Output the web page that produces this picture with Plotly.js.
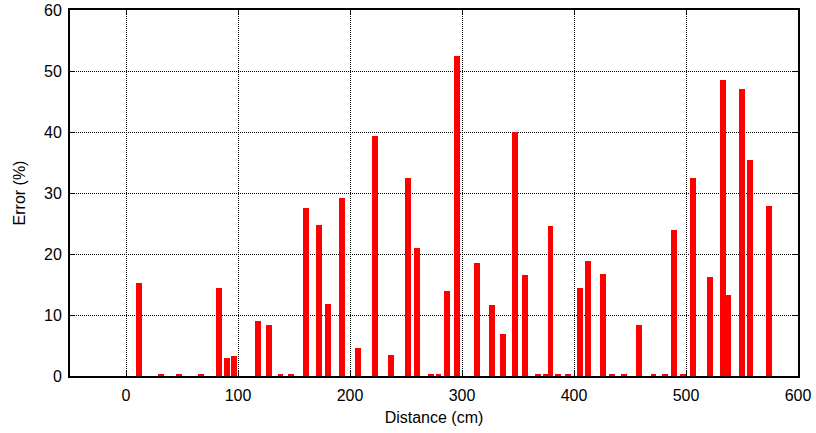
<!DOCTYPE html>
<html>
<head>
<meta charset="utf-8">
<script src="https://cdn.plot.ly/plotly-3.0.1.min.js"></script>
<style>html,body{margin:0;padding:0;background:#fff;}#chart{width:816px;height:433px;}</style>
</head>
<body>
<div id="chart"></div>
<script>
// Distance (cm) of each bar
const distance = [11.5, 31, 47, 67, 83, 90.5, 96.5, 117.5, 127.5, 138, 147,
  161, 172.5, 180, 193, 207, 222.5, 236.5, 252, 260, 272, 279, 286.5, 295.5,
  313.5, 327, 336.5, 347, 356, 368, 375, 379, 386, 395, 405, 412.5, 426, 434,
  445, 458, 471, 481, 489.5, 497, 506, 521.5, 533.3, 537.8, 550, 557, 574];
// Error (%) of each bar
const errorPct = [15.3, 0.35, 0.35, 0.35, 14.4, 2.9, 3.2, 9.0, 8.3, 0.35, 0.35,
  27.6, 24.8, 11.8, 29.2, 4.6, 39.3, 3.4, 32.5, 21.0, 0.35, 0.35, 14.0, 52.5,
  18.5, 11.6, 6.9, 40.0, 16.6, 0.35, 0.35, 24.6, 0.35, 0.35, 14.5, 18.9, 16.8, 0.35,
  0.35, 8.3, 0.35, 0.35, 23.9, 0.35, 32.5, 16.3, 48.5, 13.3, 47.1, 35.4, 27.9];
const xTicks = [0, 100, 200, 300, 400, 500, 600];
const yTicks = [0, 10, 20, 30, 40, 50, 60];

const trace = {
  type: 'bar',
  x: distance,
  y: errorPct,
  width: 5.2,
  marker: {color: '#ff0000', line: {width: 0}},
  hoverinfo: 'x+y'
};

const FONT = 'Liberation Sans, Arial, sans-serif';
const axisCommon = {
  showline: true, linecolor: '#000', linewidth: 2, mirror: 'allticks',
  ticks: 'inside', ticklen: 5, tickcolor: '#000', tickwidth: 1,
  showgrid: true, gridcolor: '#000', gridwidth: 1, griddash: '1px,1px',
  zeroline: false,
  tickfont: {family: FONT, size: 16, color: '#000'}
};

const layout = {
  width: 816, height: 433,
  margin: {l: 70, r: 18, t: 10, b: 57},
  paper_bgcolor: '#fff', plot_bgcolor: '#fff',
  showlegend: false,
  bargap: 0,
  xaxis: Object.assign({}, axisCommon, {
    range: [-50, 600], tickvals: xTicks, ticktext: xTicks.map(String),
    ticklabelstandoff: 4,
    title: {text: 'Distance (cm)', standoff: 9,
      font: {family: FONT, size: 16, color: '#000'}}
  }),
  yaxis: Object.assign({}, axisCommon, {
    range: [0, 60], tickvals: yTicks, ticktext: yTicks.map(String),
    ticklabelstandoff: 3,
    title: {text: 'Error (%)', standoff: 14,
      font: {family: FONT, size: 16, color: '#000'}}
  })
};

Plotly.newPlot('chart', [trace], layout, {displayModeBar: false, staticPlot: true});
</script>
</body>
</html>
